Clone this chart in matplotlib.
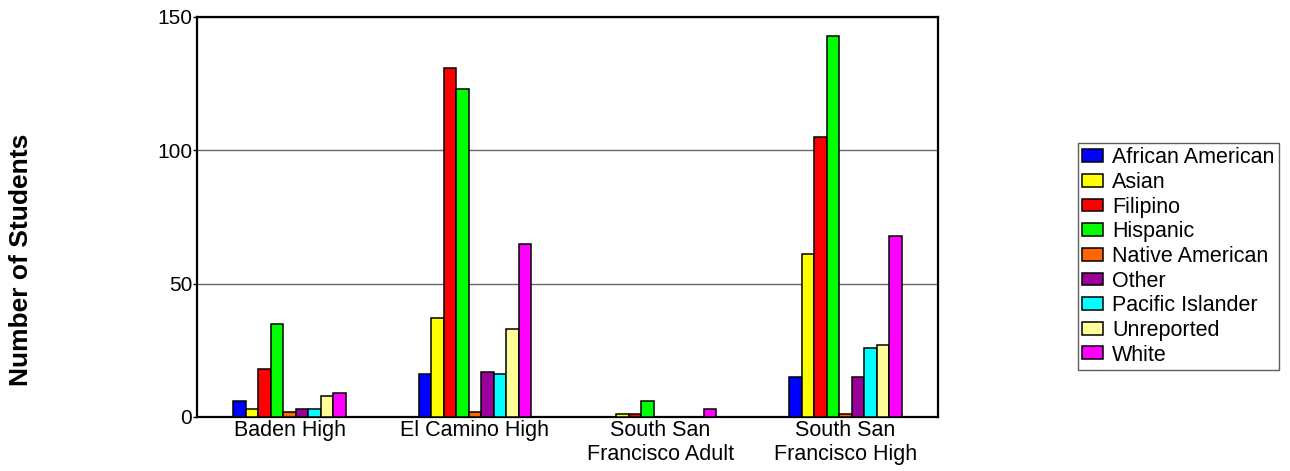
import numpy as np
import matplotlib.pyplot as plt

plt.rcParams['font.family'] = ['Liberation Sans', 'DejaVu Sans']

# --- DATOS ---
escuelas = ["Baden High", "El Camino High", "South San\nFrancisco Adult", "South San\nFrancisco High"]
grupos = ["African American", "Asian", "Filipino", "Hispanic", "Native American",
          "Other", "Pacific Islander", "Unreported", "White"]
african_american = [6, 16, 0, 15]
asian = [3, 37, 1, 61]
filipino = [18, 131, 1, 105]
hispanic = [35, 123, 6, 143]
native_american = [2, 2, 0, 1]
other = [3, 17, 0, 15]
pacific_islander = [3, 16, 0, 26]
unreported = [8, 33, 0, 27]
white = [9, 65, 3, 68]
series = [african_american, asian, filipino, hispanic, native_american,
          other, pacific_islander, unreported, white]
colores = ["#0000ff", "#ffff00", "#ff0000", "#00ff00", "#ff6600",
           "#990099", "#00ffff", "#ffff99", "#ff00ff"]

fig = plt.figure(figsize=(12.9, 4.71), dpi=100)
ax = fig.add_axes([197 / 1290, 1 - 417 / 471, 741 / 1290, 400 / 471])

x = np.arange(len(escuelas))
ancho = 0.0675
for i, (vals, col, nom) in enumerate(zip(series, colores, grupos)):
    offs = (i - 4) * ancho
    ax.bar(x + offs, vals, width=ancho, color=col, edgecolor='black', linewidth=1.1,
           label=nom, zorder=3)

ax.set_xlim(-0.5, len(escuelas) - 0.5)
ax.set_ylim(0, 150)
ax.set_yticks([0, 50, 100, 150])
ax.set_xticks(x)
ax.set_xticklabels(escuelas, fontsize=15.5, linespacing=1.22)
ax.tick_params(axis='y', labelsize=15, length=3, width=1, pad=0.5)
ax.tick_params(axis='x', length=0, pad=2)
ax.grid(axis='y', color='#666666', linewidth=1, zorder=0)
for s in ax.spines.values():
    s.set_linewidth(1.6)

fig.text(21 / 1290, 1 - 260 / 471, "Number of Students", rotation=90, fontsize=19,
         fontweight='bold', ha='center', va='center')

leg = ax.legend(loc='upper left', bbox_to_anchor=(1078 / 1290, 1 - 143 / 471),
                bbox_transform=fig.transFigure, fontsize=15.5, frameon=True, fancybox=False,
                edgecolor='#333333', borderpad=0.2, labelspacing=0.17, handlelength=0.95,
                handleheight=0.55, handletextpad=0.43, borderaxespad=0)
leg.get_frame().set_linewidth(1.0)

fig.savefig("out.png", dpi=100)
